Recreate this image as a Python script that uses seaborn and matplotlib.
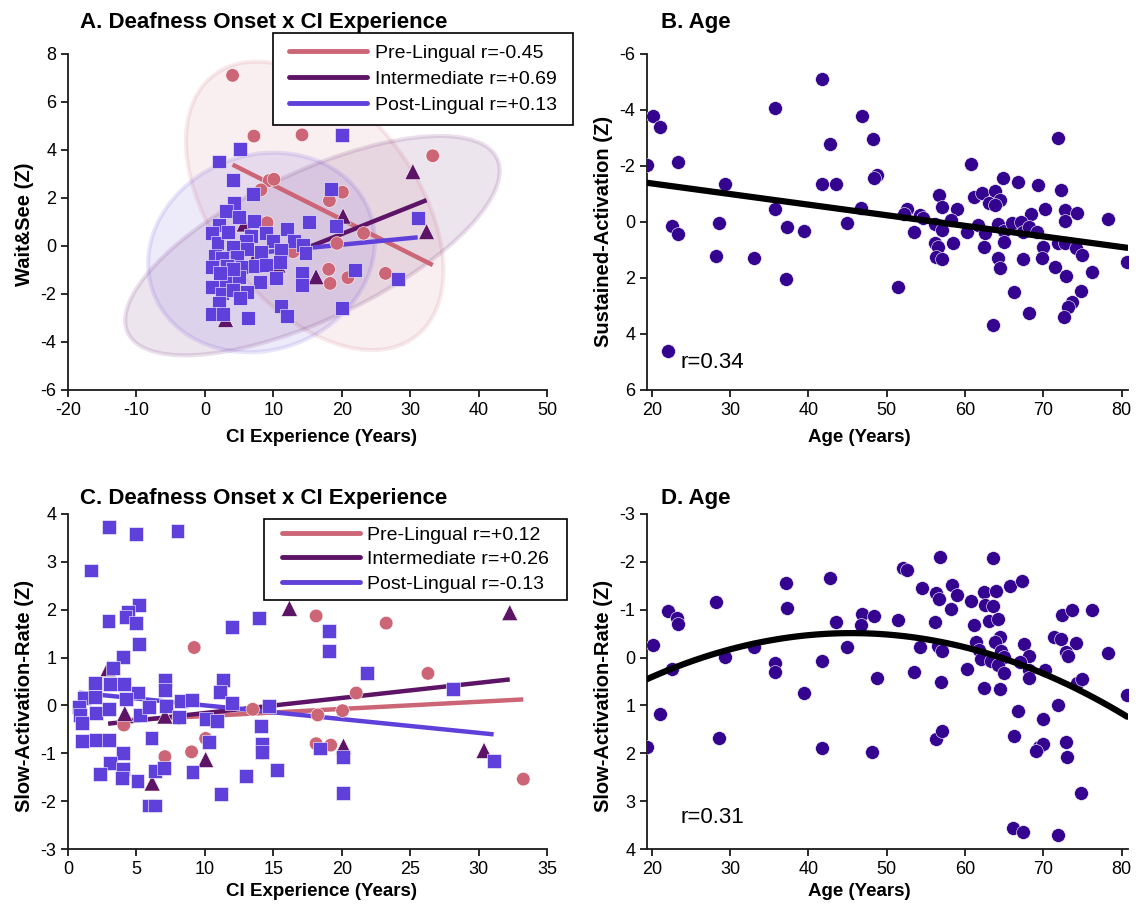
import numpy as np
import pandas as pd
import matplotlib
matplotlib.use("Agg")
import matplotlib.pyplot as plt
import seaborn as sns
from matplotlib.patches import Ellipse, Rectangle
from matplotlib.lines import Line2D
from matplotlib.colors import to_rgba

sns.set_style("ticks")
plt.rcParams["font.family"] = ["Liberation Sans", "DejaVu Sans"]
plt.rcParams["axes.unicode_minus"] = False
plt.rcParams["text.color"] = "black"
plt.rcParams["axes.labelcolor"] = "black"
plt.rcParams["xtick.color"] = "black"
plt.rcParams["ytick.color"] = "black"

# ---------------- data ----------------
GROUPS = ["Pre-Lingual", "Intermediate", "Post-Lingual"]

# Panel A: CI experience (years) vs Wait&See (Z)
a_pre_x = [4.05, 7.17, 14.2, 9.4, 10.1, 8.2, 9.1, 18.2, 20.1, 23.2, 19.3, 18.1, 18.3, 20.9, 26.4, 12.9, 33.3]
a_pre_y = [7.11, 4.58, 4.63, 2.73, 2.78, 2.34, 0.97, 1.89, 2.24, 0.53, 0.11, -0.97, -1.56, -1.32, -1.14, -0.24, 3.76]
a_int_x = [5.75, 7.07, 3.03, 16.25, 20.2, 10.7, 30.4, 32.4]
a_int_y = [0.92, -0.63, -3.06, -1.28, 1.25, -0.79, 3.10, 0.60]
a_post_x = [20.1, 5.2, 2.05, 4.05, 7.1, 18.4, 4.25, 3.07, 5.0, 2.1, 1.1, 1.85, 7.2, 9.0, 12.05, 15.2, 19.1,
            6.8, 6.0, 10.0, 13.0, 14.4, 14.7, 4.15, 6.2, 8.15, 11.1, 1.46, 2.45, 4.65, 10.95, 0.98, 3.18,
            5.37, 7.3, 9.0, 14.15, 14.15, 10.4, 21.9, 0.98, 3.07, 5.0, 8.05, 2.45, 4.15, 6.2, 5.2, 2.1,
            0.98, 2.6, 6.35, 11.1, 12.05, 20.0, 4.15, 2.2, 3.4, 31.1, 28.2]
a_post_y = [4.63, 4.04, 3.52, 2.76, 2.16, 2.38, 1.81, 1.47, 1.22, 0.88, 0.53, 0.11, 1.06, 0.53, 0.71, 0.99, 0.85,
            0.42, 0.21, 0.22, 0.21, 0.04, -0.28, -0.06, -0.13, -0.24, -0.17, -0.42, -0.49, -0.45, -0.66, -0.86, -0.84,
            -0.86, -0.84, -0.79, -1.14, -1.63, -1.32, -1.0, -1.70, -1.49, -1.31, -1.49, -1.98, -1.84, -1.91, -2.18, -2.39,
            -2.85, -2.85, -2.99, -2.51, -2.91, -2.60, -0.97, -1.14, 0.60, 1.16, -1.39]
a_labels = ["Pre-Lingual r=-0.45", "Intermediate r=+0.69", "Post-Lingual r=+0.13"]

# Panel B: Age vs Sustained-Activation (Z)
b_age = [20.2, 21.0, 19.4, 23.4, 29.3, 22.6, 23.3, 28.6, 28.2, 33.1, 35.8, 35.8, 37.3, 37.1, 39.4, 41.7, 42.7,
         41.8, 43.5, 44.9, 46.9, 48.2, 48.7, 48.4, 46.7, 22.1,
         60.8, 71.9, 64.9, 66.7, 69.3, 72.2, 56.7, 57.0, 59.0, 61.2, 62.1, 63.8, 63.1, 64.4, 63.8, 70.2, 72.8,
         74.3, 72.8, 78.2, 68.4, 52.6, 52.2, 54.2, 54.6, 58.2, 56.1, 57.0, 53.5, 60.2, 61.6, 62.6, 64.2, 65.0,
         66.0, 67.2, 67.4, 68.1, 69.2, 58.4, 56.1, 56.5, 56.3, 57.0, 62.4, 65.0, 64.2, 64.5, 67.4, 69.9, 69.8,
         71.9, 72.7, 74.2, 74.9, 71.5, 72.9, 76.2, 80.7, 74.8, 73.6, 73.1, 72.6, 66.2, 68.2, 63.6, 51.5]
b_sa = [-3.77, -3.38, -2.04, -2.13, -1.35, 0.13, 0.42, 0.02, 1.22, 1.29, -4.06, -0.45, 0.18, 2.02, 0.32, -5.11, -2.78,
        -1.35, -1.35, 0.05, -3.77, -2.96, -1.68, -1.57, -0.49, 4.61,
        -2.07, -2.99, -1.57, -1.43, -1.33, -1.15, -0.97, -0.55, -0.45, -0.91, -1.05, -1.09, -0.67, -0.79, -0.61, -0.47, -0.43,
        -0.31, -0.04, -0.10, -0.30, -0.45, -0.29, -0.25, -0.13, -0.07, 0.07, 0.29, 0.35, 0.36, 0.11, 0.41, 0.07, 0.31,
        0.05, -0.01, 0.35, 0.17, 0.35, 0.74, 0.76, 0.91, 1.24, 1.33, 0.91, 0.73, 1.30, 1.64, 1.33, 0.88, 1.27,
        0.76, 0.76, 0.94, 1.18, 1.62, 1.94, 1.78, 1.42, 2.46, 2.86, 3.04, 3.39, 2.50, 3.25, 3.69, 2.32]
b_r = "r=0.34"

# Panel C: CI experience (years) vs Slow-Activation-Rate (Z)
c_pre_x = [9.22, 4.08, 7.08, 9.03, 10.06, 8.1, 13.5, 18.13, 18.25, 18.13, 19.2, 14.2, 23.25, 26.3, 21.06, 20.06, 33.27]
c_pre_y = [1.21, -0.41, -1.07, -0.97, -0.69, -0.27, -0.08, 1.87, -0.20, -0.80, -0.83, -1.0, 1.72, 0.67, 0.26, -0.11, -1.54]
c_int_x = [2.93, 4.15, 7.08, 10.06, 6.15, 16.18, 20.13, 32.28, 30.4]
c_int_y = [0.77, -0.17, -0.22, -1.13, -1.62, 2.03, -0.85, 1.94, -0.94]
c_post_x = [2.98, 5.0, 8.0, 1.71, 5.18, 4.39, 4.2, 5.0, 2.96, 5.18, 4.03, 3.29, 1.95, 3.05, 4.1, 5.12, 7.08, 7.08,
            11.35, 11.1, 1.15, 1.95, 4.27, 0.8, 2.03, 2.98, 0.86, 1.05, 5.25, 5.93, 7.15, 8.23, 9.03, 8.1, 10.06,
            10.86, 11.96, 1.05, 2.03, 2.98, 6.1, 10.3, 4.03, 3.1, 2.32, 4.03, 3.95, 5.08, 6.35, 7.0, 9.1, 5.93,
            6.35, 11.15, 13.0, 13.98, 12.0, 14.1, 14.15, 14.15, 15.26, 14.7, 19.1, 19.1, 18.4, 21.85, 28.1, 20.1,
            20.1, 31.1]
c_post_y = [3.72, 3.58, 3.65, 2.82, 2.10, 1.96, 1.84, 1.73, 1.77, 1.28, 1.02, 0.79, 0.47, 0.44, 0.44, 0.27, 0.53, 0.32,
            0.53, 0.28, 0.15, 0.18, 0.13, -0.03, -0.15, -0.08, -0.20, -0.36, -0.20, -0.03, -0.01, 0.09, 0.11, -0.24, -0.29,
            -0.32, 0.05, -0.74, -0.73, -0.73, -0.68, -0.76, -0.99, -1.21, -1.44, -1.32, -1.51, -1.58, -1.37, -1.30, -1.39, -2.09,
            -2.09, -1.86, -1.48, 1.82, 1.64, -0.43, -0.80, -0.98, -1.35, -0.01, 1.55, 1.14, -0.90, 0.67, 0.34, -1.07,
            -1.83, -1.17]
c_labels = ["Pre-Lingual r=+0.12", "Intermediate r=+0.26", "Post-Lingual r=-0.13"]

# Panel D: Age vs Slow-Activation-Rate (Z)
d_age = [20.2, 21.0, 19.4, 22.1, 23.2, 23.4, 22.6, 28.2, 29.3, 28.6, 33.1, 35.8, 35.8, 37.1, 37.3, 39.4, 41.7, 41.8,
         42.7, 43.5, 44.9, 46.9, 46.7, 48.4, 48.7, 48.1,
         56.8, 63.6, 52.1, 52.6, 54.5, 58.3, 56.3, 56.7, 59.0, 60.8, 62.4, 63.9, 65.7, 67.3, 58.2, 62.5, 63.6, 51.5,
         56.2, 61.1, 63.1, 64.2, 72.4, 73.6, 76.2, 64.4, 63.8, 61.4, 54.3, 56.5, 57.0, 61.8, 64.6, 67.5, 68.1, 71.4,
         72.3, 74.1, 72.9, 73.1, 78.2, 62.0, 63.3, 65.0, 67.0, 64.2, 70.2, 68.2, 68.2, 65.0, 60.2, 53.5, 56.9, 62.4,
         64.5, 74.3, 74.9, 80.7, 71.9, 66.8, 70.0, 66.2, 56.3, 57.0, 69.4, 70.0, 69.1, 72.9, 73.0, 74.8, 66.1, 67.4, 71.9]
d_sar = [-0.27, 1.18, 1.86, -0.98, -0.82, -0.70, 0.24, -1.17, -0.01, 1.69, -0.22, 0.12, 0.30, -1.56, -1.03, 0.73, 0.07,
         1.89, -1.67, -0.74, -0.22, -0.91, -0.68, -0.86, 0.42, 1.97,
         -2.10, -2.09, -1.87, -1.82, -1.45, -1.52, -1.35, -1.23, -1.31, -1.19, -1.38, -1.40, -1.49, -1.59, -1.01, -1.10,
         -1.08, -0.79, -0.75, -0.68, -0.77, -0.80, -0.89, -1.00, -1.00, -0.44, -0.33, -0.33, -0.22, -0.24, -0.13, -0.16,
         -0.13, -0.28, -0.04, -0.43, -0.38, -0.30, -0.11, -0.04, -0.09, 0.03, 0.08, -0.02, 0.10, 0.15, 0.27, 0.26, 0.43,
         0.33, 0.24, 0.31, 0.52, 0.64, 0.65, 0.54, 0.45, 0.78, 1.00, 1.12, 1.28, 1.63, 1.71, 1.53, 1.86, 1.81, 1.95, 1.76,
         2.08, 2.82, 3.57, 3.64, 3.71]
d_r = "r=0.31"

# ---------------- style ----------------
COLORS = {"Pre-Lingual": "#CC6677", "Intermediate": "#5E1466", "Post-Lingual": "#6040DA"}
MARKERS = {"Pre-Lingual": "o", "Intermediate": "^", "Post-Lingual": "s"}
SIZES = {"Pre-Lingual": 95, "Intermediate": 135, "Post-Lingual": 100}
DOT = "#34038F"
XL = 13.5
YL = 14.5

W, H = 1136, 906
fig = plt.figure(figsize=(W / 100, H / 100), dpi=100)


def add_ax(l, t, r, b):
    return fig.add_axes([l / W, (H - b) / H, (r - l) / W, (b - t) / H])


def grouped(px, py, ix, iy, sx, sy):
    frames = []
    for g, xs, ys in zip(GROUPS, [px, ix, sx], [py, iy, sy]):
        frames.append(pd.DataFrame({"x": xs, "y": ys, "group": g}))
    return pd.concat(frames, ignore_index=True)


def conf_ellipse(ax, x, y, color, k=2.4477):
    x = np.asarray(x); y = np.asarray(y)
    cov = np.cov(x, y)
    vals, vecs = np.linalg.eigh(cov)
    order = vals.argsort()[::-1]
    vals, vecs = vals[order], vecs[:, order]
    angle = np.degrees(np.arctan2(vecs[1, 0], vecs[0, 0]))
    w, h = 2 * k * np.sqrt(vals)
    e = Ellipse((x.mean(), y.mean()), w, h, angle=angle,
                facecolor=to_rgba(color, 0.11), edgecolor=to_rgba(color, 0.13),
                linewidth=3, zorder=0)
    ax.add_patch(e)


def style_axes(ax):
    for s in ["top", "right"]:
        ax.spines[s].set_visible(False)
    for s in ["left", "bottom"]:
        ax.spines[s].set_linewidth(1.3)
        ax.spines[s].set_color("#1a1a1a")
    ax.tick_params(direction="out", length=5, width=1.3, labelsize=13, colors="#1a1a1a", labelcolor="black")


def group_panel(ax, df):
    for g in GROUPS:
        sub = df[df.group == g]
        sns.regplot(data=sub, x="x", y="y", scatter=False, ci=None, truncate=True,
                    color=COLORS[g], line_kws={"lw": 3.2, "solid_capstyle": "butt"}, ax=ax)
    sns.scatterplot(data=df, x="x", y="y", hue="group", style="group", size="group",
                    hue_order=GROUPS, style_order=GROUPS, size_order=GROUPS,
                    palette=COLORS, markers=MARKERS, sizes=SIZES,
                    edgecolor="white", linewidth=0.4, legend=False, ax=ax, zorder=3)
    return [Line2D([0], [0], color=COLORS[g], lw=3.5) for g in GROUPS]


def boxed_legend(ax, handles, labels, box, spacing):
    l, t, r, b = box
    cx, cy = (l + r) / 2 / W, 1 - (t + b) / 2 / H
    leg = ax.legend(handles, labels, loc="center", bbox_to_anchor=(cx, cy),
                    bbox_transform=fig.transFigure, fontsize=14, handlelength=4.0,
                    labelspacing=spacing, frameon=False, borderpad=0, borderaxespad=0,
                    handletextpad=0.4)
    leg.set_zorder(7)
    rect = Rectangle((l / W, 1 - b / H), (r - l) / W, (b - t) / H, transform=fig.transFigure,
                     facecolor="white", edgecolor="black", linewidth=1.2, zorder=6, clip_on=False)
    ax.add_patch(rect)


def labels(ax, xlabel, ylabel, xpos, xtop, ypos):
    ax.set_xlabel(xlabel, fontsize=XL, fontweight="bold")
    ax.set_ylabel(ylabel, fontsize=YL, fontweight="bold")
    ax.xaxis.set_label_coords(xpos, xtop)
    ax.yaxis.set_label_coords(-0.071, ypos)


axA = add_ax(68, 54, 547, 390)
axB = add_ax(647, 54, 1128, 390)
axC = add_ax(68, 514, 547, 849)
axD = add_ax(647, 514, 1128, 849)

# ---- Panel A ----
dfA = grouped(a_pre_x, a_pre_y, a_int_x, a_int_y, a_post_x, a_post_y)
for g in GROUPS:
    sub = dfA[dfA.group == g]
    conf_ellipse(axA, sub.x, sub.y, COLORS[g])
hA = group_panel(axA, dfA)
axA.set_xlim(-20, 50)
axA.set_ylim(-6, 8)
axA.set_xticks(np.arange(-20, 51, 10))
axA.set_yticks(np.arange(-6, 9, 2))
labels(axA, "CI Experience (Years)", "Wait&See (Z)", 0.530, -0.116, 0.494)
boxed_legend(axA, hA, a_labels, (273, 33, 573, 125), 0.44)
style_axes(axA)
axA.text(0.025, 1.077, "A. Deafness Onset x CI Experience", transform=axA.transAxes,
         fontsize=16, fontweight="bold", va="baseline", ha="left")

# ---- Panel B ----
dfB = pd.DataFrame({"age": b_age, "val": b_sa})
sns.regplot(data=dfB, x="age", y="val", ci=None, truncate=True, color=DOT,
            scatter_kws={"s": 100, "edgecolor": "white", "linewidths": 0.4, "alpha": 1, "zorder": 3},
            line_kws={"color": "black", "lw": 4.5, "zorder": 4}, ax=axB)
axB.set_xlim(19.4, 80.8)
axB.set_ylim(6, -6)
axB.set_xticks(np.arange(20, 81, 10))
axB.set_yticks(np.arange(-6, 7, 2))
labels(axB, "Age (Years)", "Sustained-Activation (Z)", 0.441, -0.116, 0.473)
style_axes(axB)
axB.text(23.7, 5.2, b_r, fontsize=16, va="baseline", ha="left")
axB.text(0.03, 1.077, "B. Age", transform=axB.transAxes,
         fontsize=16, fontweight="bold", va="baseline", ha="left")

# ---- Panel C ----
dfC = grouped(c_pre_x, c_pre_y, c_int_x, c_int_y, c_post_x, c_post_y)
hC = group_panel(axC, dfC)
axC.set_xlim(0, 35)
axC.set_ylim(-3, 4)
axC.set_xticks(np.arange(0, 36, 5))
axC.set_yticks(np.arange(-3, 5, 1))
labels(axC, "CI Experience (Years)", "Slow-Activation-Rate (Z)", 0.530, -0.101, 0.457)
boxed_legend(axC, hC, c_labels, (264, 519, 567, 600), 0.36)
style_axes(axC)
axC.text(0.025, 1.03, "C. Deafness Onset x CI Experience", transform=axC.transAxes,
         fontsize=16, fontweight="bold", va="baseline", ha="left")

# ---- Panel D ----
dfD = pd.DataFrame({"age": d_age, "val": d_sar})
sns.regplot(data=dfD, x="age", y="val", order=2, ci=None, truncate=True, color=DOT,
            scatter_kws={"s": 100, "edgecolor": "white", "linewidths": 0.4, "alpha": 1, "zorder": 3},
            line_kws={"color": "black", "lw": 4.5, "zorder": 4}, ax=axD)
axD.set_xlim(19.4, 80.8)
axD.set_ylim(4, -3)
axD.set_xticks(np.arange(20, 81, 10))
axD.set_yticks(np.arange(-3, 5, 1))
labels(axD, "Age (Years)", "Slow-Activation-Rate (Z)", 0.441, -0.101, 0.457)
style_axes(axD)
axD.text(23.7, 3.45, d_r, fontsize=16, va="baseline", ha="left")
axD.text(0.03, 1.03, "D. Age", transform=axD.transAxes,
         fontsize=16, fontweight="bold", va="baseline", ha="left")

fig.savefig("out.png", dpi=100)
